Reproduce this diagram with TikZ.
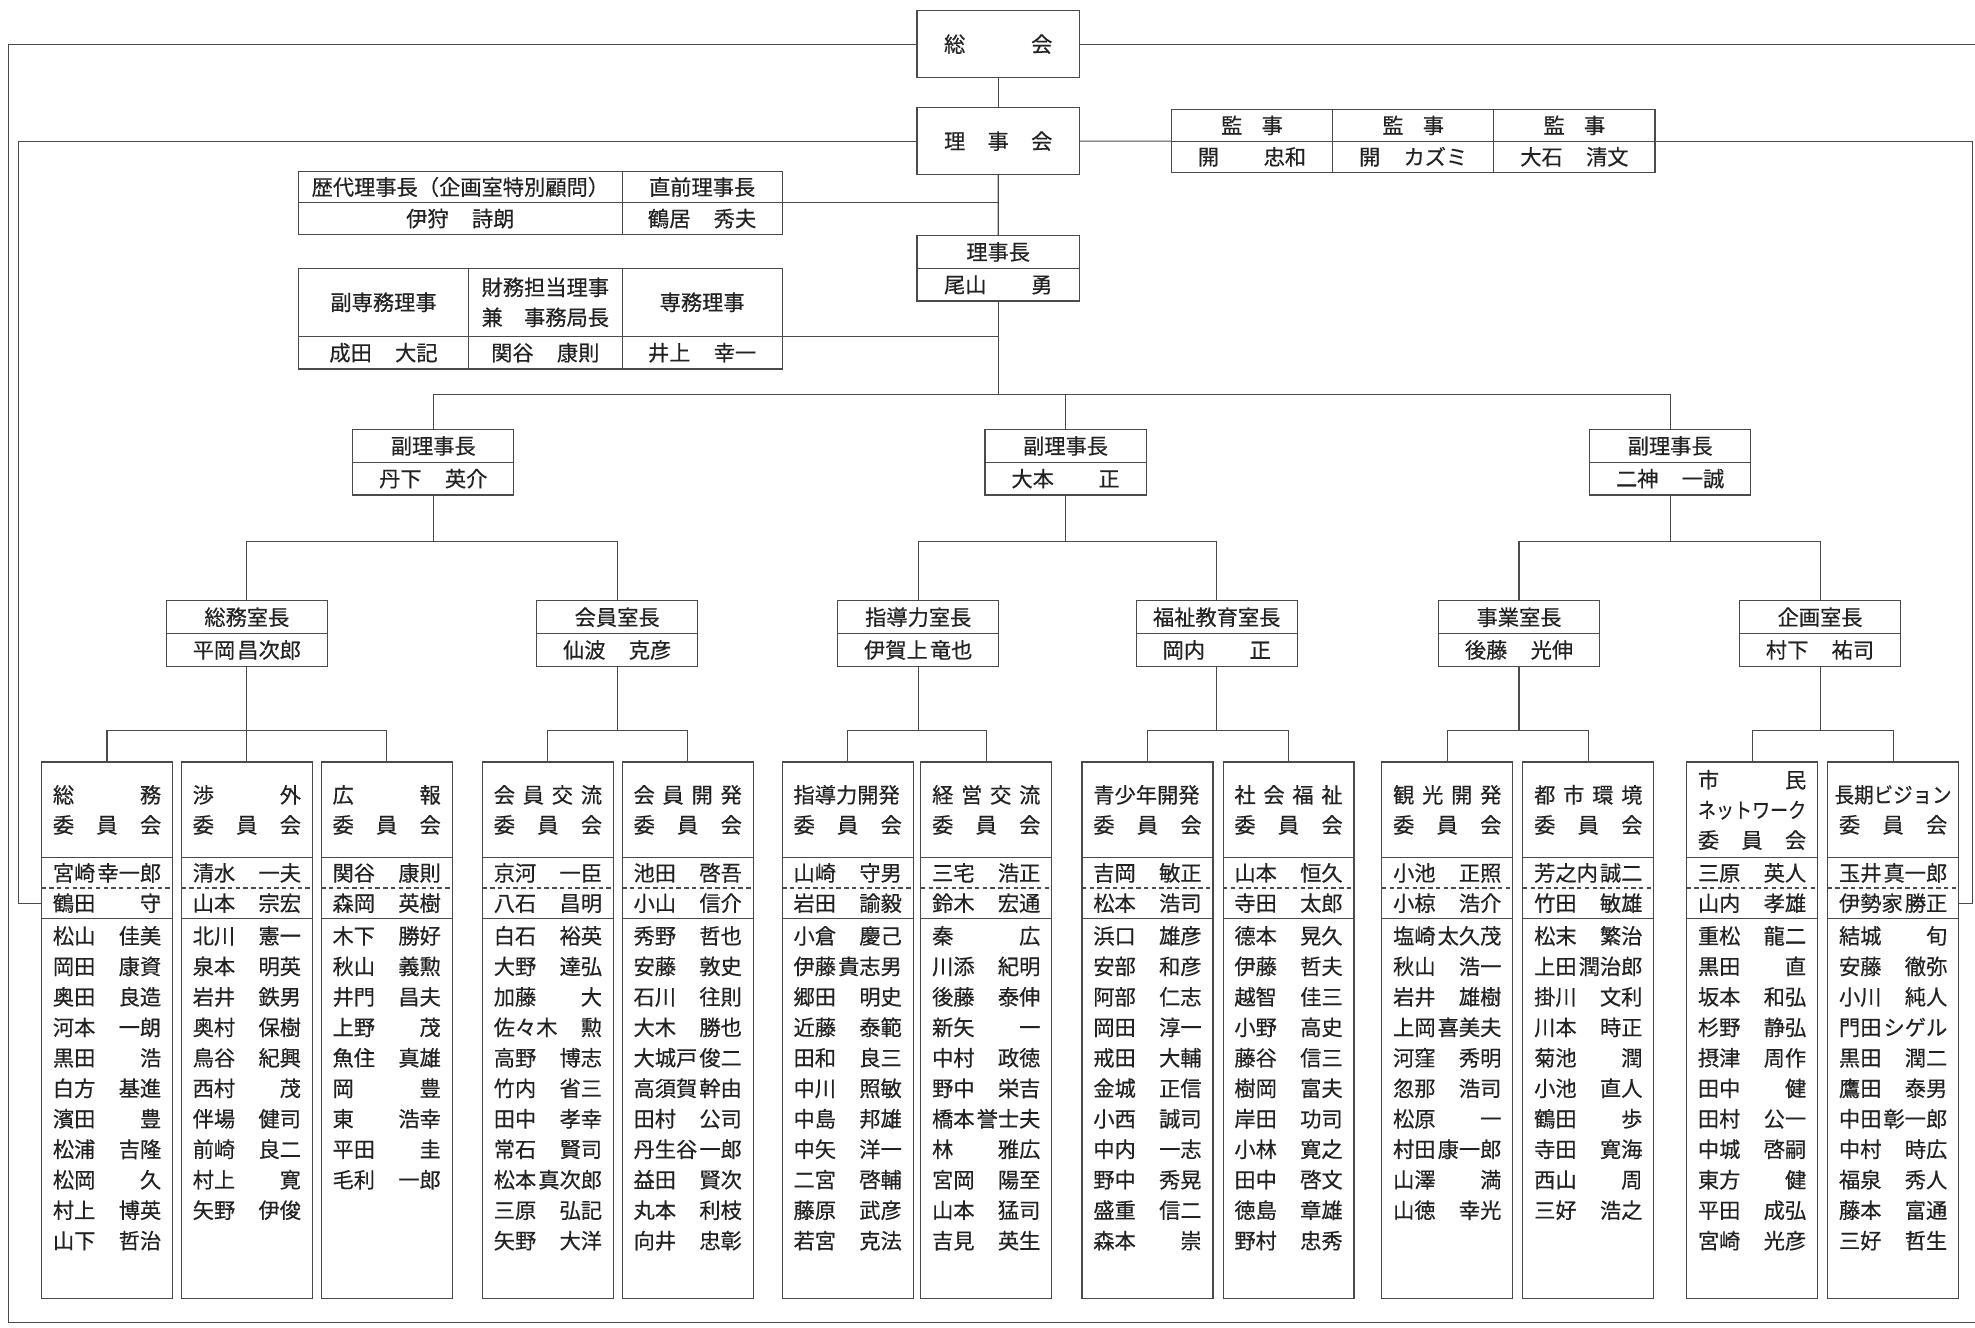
\documentclass[tikz,border=0pt]{standalone}
\usepackage{fontspec}
\usepackage{graphicx}
\newfontfamily\jpfont{Noto Sans CJK JP}[FakeBold=0.4]
\usetikzlibrary{positioning, calc}
\definecolor{rulegray}{HTML}{4A4A4A}
\definecolor{inkdark}{HTML}{222222}
\newlength\namew
\setlength\namew{1.72cm}
% surname flush left, given name flush right
\newcommand\nm[2]{\hbox to\namew{#1\hfil #2}}
\newcommand\iinkai{\hbox to\namew{委\hfil 員\hfil 会}}
% committee column: id, left x, header, chair, vice, members
\newcommand\committee[6]{%
  \pgfmathsetmacro\comx{#2+52}
  \node[combox] (#1) at (#2,605) {};
  \node[txt, align=center] (#1-head) at (\comx,643) {#3};
  \draw[rule] (#1.west |- 0,681) -- (#1.east |- 0,681);
  \node[nametxt] (#1-chair) at (\comx,693) {#4};
  \draw[dashrule] (#1.west |- 0,705) -- (#1.east |- 0,705);
  \node[nametxt] (#1-vice) at (\comx,717) {#5};
  \draw[rule] (#1.west |- 0,729) -- (#1.east |- 0,729);
  \foreach \s/\g [count=\i] in {#6}
    \node[nametxt] (#1-m\i) at (\comx,{743+(\i-1)*24.2}) {\nm{\s}{\g}};
}

\begin{document}
\begin{tikzpicture}[x=0.02cm, y=-0.02cm,
    % ── Text styles ──────────────────────────────────────────────────────
    txt/.style={
        font=\jpfont\fontsize{9.6}{13.6}\selectfont,
        text=inkdark, inner sep=0pt, outer sep=0pt
    },
    nametxt/.style={txt, text height=8.45pt, text depth=1.15pt},
    % ── Box styles ───────────────────────────────────────────────────────
    rule/.style={draw=rulegray, line width=0.5pt},
    dashrule/.style={rule, dash pattern=on 2pt off 1.5pt},
    cell/.style={rule, txt, align=center, minimum height=0.5cm},
    namecell/.style={cell, text height=8.45pt, text depth=1.15pt},
    topbox/.style={namecell, minimum width=2.58cm, minimum height=1.06cm},
    auditcell/.style={namecell, minimum width=2.56cm, minimum height=0.5cm},
    postbox/.style={namecell, minimum width=2.56cm, minimum height=0.52cm},
    combox/.style={
        rule, anchor=north west, inner sep=0pt, outer sep=0pt,
        minimum width=2.08cm, minimum height=8.52cm
    },
    % ── Connector style ──────────────────────────────────────────────────
    link/.style={draw=rulegray, line width=0.5pt}
]
\fill[white] (0,0) rectangle (1568,1054);
\useasboundingbox (0,0) rectangle (1568,1054);

% ═══════════════════════════════════════════════════════════════════════════
% Top of the chart
% ═══════════════════════════════════════════════════════════════════════════

% 1. General meeting and board
\node[topbox] (sokai) at (792.5,35) {\hbox to\namew{総\hfil 会}};
\node[topbox] (rijikai) at (792.5,112) {\hbox to\namew{理\hfil 事\hfil 会}};

% Auditors
\node[auditcell, anchor=north west] (kanji1) at (930,87) {\hbox to 0.98cm{監\hfil 事}};
\node[auditcell, right=0pt of kanji1] (kanji2) {\hbox to 0.98cm{監\hfil 事}};
\node[auditcell, right=0pt of kanji2] (kanji3) {\hbox to 0.98cm{監\hfil 事}};
\node[auditcell, below=0pt of kanji1] (kanji1n) {\nm{開}{忠和}};
\node[auditcell, below=0pt of kanji2] (kanji2n) {\nm{開}{カズミ}};
\node[auditcell, below=0pt of kanji3] (kanji3n) {\nm{大石}{清文}};

% 2. Former chairmen
\node[cell, anchor=north west, minimum width=5.14cm] (rekidai) at (237,136)
    {歴代理事長（企画室特別顧問）};
\node[namecell, below=0pt of rekidai, minimum width=5.14cm] (rekidain) {\nm{伊狩}{詩朗}};
\node[namecell, right=0pt of rekidai, minimum width=2.54cm] (chokuzen) {直前理事長};
\node[namecell, below=0pt of chokuzen, minimum width=2.54cm] (chokuzenn) {\nm{鶴居}{秀夫}};

% 3. Chairman
\node[postbox, anchor=north west, minimum width=2.58cm] (rijicho) at (728,187) {理事長};
\node[postbox, below=0pt of rijicho, minimum width=2.58cm] (rijichon) {\nm{尾山}{勇}};

% Executive directors
\node[cell, anchor=north west, minimum width=2.7cm, minimum height=1.08cm] (fukusenmu)
    at (237,213) {副専務理事};
\node[cell, right=0pt of fukusenmu, minimum width=2.44cm, minimum height=1.08cm] (zaimu)
    {財務担当理事\\\hbox to 6em{兼\hfil 事務局長}};
\node[cell, right=0pt of zaimu, minimum width=2.54cm, minimum height=1.08cm] (senmu)
    {専務理事};
\node[namecell, below=0pt of fukusenmu, minimum width=2.7cm, minimum height=0.52cm]
    (fukusenmun) {\nm{成田}{大記}};
\node[namecell, below=0pt of zaimu, minimum width=2.44cm, minimum height=0.52cm]
    (zaimun) {\nm{関谷}{康則}};
\node[namecell, below=0pt of senmu, minimum width=2.54cm, minimum height=0.52cm]
    (senmun) {\nm{井上}{幸一}};

% ═══════════════════════════════════════════════════════════════════════════
% Vice chairmen and office chiefs
% ═══════════════════════════════════════════════════════════════════════════
\node[postbox, anchor=north west] (vc1) at (280,341) {副理事長};
\node[postbox, below=0pt of vc1] (vc1n) {\nm{丹下}{英介}};
\node[postbox, anchor=north west] (vc2) at (782,341) {副理事長};
\node[postbox, below=0pt of vc2] (vc2n) {\nm{大本}{正}};
\node[postbox, anchor=north west] (vc3) at (1262,341) {副理事長};
\node[postbox, below=0pt of vc3] (vc3n) {\nm{二神}{一誠}};

\node[postbox, anchor=north west] (ch1) at (132,477) {総務室長};
\node[postbox, below=0pt of ch1] (ch1n) {\nm{平岡}{昌次郎}};
\node[postbox, anchor=north west] (ch2) at (426,477) {会員室長};
\node[postbox, below=0pt of ch2] (ch2n) {\nm{仙波}{克彦}};
\node[postbox, anchor=north west] (ch3) at (665,477) {指導力室長};
\node[postbox, below=0pt of ch3] (ch3n) {\nm{伊賀上}{竜也}};
\node[postbox, anchor=north west] (ch4) at (902,477) {福祉教育室長};
\node[postbox, below=0pt of ch4] (ch4n) {\nm{岡内}{正}};
\node[postbox, anchor=north west] (ch5) at (1142,477) {事業室長};
\node[postbox, below=0pt of ch5] (ch5n) {\nm{後藤}{光伸}};
\node[postbox, anchor=north west] (ch6) at (1381,477) {企画室長};
\node[postbox, below=0pt of ch6] (ch6n) {\nm{村下}{祐司}};

% ═══════════════════════════════════════════════════════════════════════════
% Committees
% ═══════════════════════════════════════════════════════════════════════════
\committee{somu}{33}{\hbox to\namew{総\hfil 務}\\\iinkai}
  {\nm{宮崎}{幸一郎}}{\nm{鶴田}{守}}
  {松山/佳美, 岡田/康資, 奥田/良造, 河本/一朗, 黒田/浩, 白方/基進,
   濱田/豊, 松浦/吉隆, 松岡/久, 村上/博英, 山下/哲治}
\committee{shogai}{144}{\hbox to\namew{渉\hfil 外}\\\iinkai}
  {\nm{清水}{一夫}}{\nm{山本}{宗宏}}
  {北川/憲一, 泉本/明英, 岩井/鉄男, 奥村/保樹, 鳥谷/紀興, 西村/茂,
   伴場/健司, 前崎/良二, 村上/寛, 矢野/伊俊}
\committee{koho}{255}{\hbox to\namew{広\hfil 報}\\\iinkai}
  {\nm{関谷}{康則}}{\nm{森岡}{英樹}}
  {木下/勝好, 秋山/義勲, 井門/昌夫, 上野/茂, 魚住/真雄, 岡/豊,
   東/浩幸, 平田/圭, 毛利/一郎}
\committee{kkoryu}{383}{\hbox to\namew{会\hfil 員\hfil 交\hfil 流}\\\iinkai}
  {\nm{京河}{一臣}}{\nm{八石}{昌明}}
  {白石/裕英, 大野/達弘, 加藤/大, 佐々木/勲, 高野/博志, 竹内/省三,
   田中/孝幸, 常石/賢司, 松本/真次郎, 三原/弘記, 矢野/大洋}
\committee{kkaihatsu}{494}{\hbox to\namew{会\hfil 員\hfil 開\hfil 発}\\\iinkai}
  {\nm{池田}{啓吾}}{\nm{小山}{信介}}
  {秀野/哲也, 安藤/敦史, 石川/往則, 大木/勝也, 大城戸/俊二, 高須賀/幹由,
   田村/公司, 丹生谷/一郎, 益田/賢次, 丸本/利枝, 向井/忠彰}
\committee{shido}{621}{\hbox to\namew{指導力開発}\\\iinkai}
  {\nm{山崎}{守男}}{\nm{岩田}{諭毅}}
  {小倉/慶己, 伊藤/貴志男, 郷田/明史, 近藤/泰範, 田和/良三, 中川/照敏,
   中島/邦雄, 中矢/洋一, 二宮/啓輔, 藤原/武彦, 若宮/克法}
\committee{keiei}{731}{\hbox to\namew{経\hfil 営\hfil 交\hfil 流}\\\iinkai}
  {\nm{三宅}{浩正}}{\nm{鈴木}{宏通}}
  {秦/広, 川添/紀明, 後藤/泰伸, 新矢/一, 中村/政徳, 野中/栄吉,
   橋本/誉士夫, 林/雅広, 宮岡/陽至, 山本/猛司, 吉見/英生}
\committee{seisho}{859}{\hbox to\namew{青少年開発}\\\iinkai}
  {\nm{吉岡}{敏正}}{\nm{松本}{浩司}}
  {浜口/雄彦, 安部/和彦, 阿部/仁志, 岡田/淳一, 戒田/大輔, 金城/正信,
   小西/誠司, 中内/一志, 野中/秀晃, 盛重/信二, 森本/崇}
\committee{shakai}{971}{\hbox to\namew{社\hfil 会\hfil 福\hfil 祉}\\\iinkai}
  {\nm{山本}{恒久}}{\nm{寺田}{太郎}}
  {德本/晃久, 伊藤/哲夫, 越智/佳三, 小野/高史, 藤谷/信三, 樹岡/富夫,
   岸田/功司, 小林/寛之, 田中/啓文, 徳島/章雄, 野村/忠秀}
\committee{kanko}{1097}{\hbox to\namew{観\hfil 光\hfil 開\hfil 発}\\\iinkai}
  {\nm{小池}{正照}}{\nm{小椋}{浩介}}
  {塩崎/太久茂, 秋山/浩一, 岩井/雄樹, 上岡/喜美夫, 河窪/秀明, 忽那/浩司,
   松原/一, 村田/康一郎, 山澤/満, 山徳/幸光}
\committee{toshi}{1209}{\hbox to\namew{都\hfil 市\hfil 環\hfil 境}\\\iinkai}
  {\nm{芳之内}{誠二}}{\nm{竹田}{敏雄}}
  {松末/繁治, 上田/潤治郎, 掛川/文利, 川本/時正, 菊池/潤, 小池/直人,
   鶴田/歩, 寺田/寛海, 西山/周, 三好/浩之}
\committee{shimin}{1339}
  {\hbox to\namew{市\hfil 民}\\\resizebox{\namew}{\height}{ネットワーク}\\\iinkai}
  {\nm{三原}{英人}}{\nm{山内}{孝雄}}
  {重松/龍二, 黒田/直, 坂本/和弘, 杉野/静弘, 摂津/周作, 田中/健,
   田村/公一, 中城/啓嗣, 東方/健, 平田/成弘, 宮崎/光彦}
\committee{choki}{1451}{\resizebox{1.08\namew}{\height}{長期ビジョン}\\\iinkai}
  {\nm{玉井}{真一郎}}{\nm{伊勢家}{勝正}}
  {結城/旬, 安藤/徹弥, 小川/純人, 門田/シゲル, 黒田/潤二, 鷹田/泰男,
   中田/彰一郎, 中村/時広, 福泉/秀人, 藤本/富通, 三好/哲生}

% ═══════════════════════════════════════════════════════════════════════════
% Connectors
% ═══════════════════════════════════════════════════════════════════════════
\draw[link] (sokai) -- (rijikai);
\draw[link] (rijikai) -- (rijicho);
\draw[link] (rijikai.east) -- (kanji1.south west);
\draw[link] (chokuzenn.north east) -- (chokuzenn.north east -| rijikai.south);
\draw[link] (senmun.north east) -- (senmun.north east -| rijikai.south);

% Outer frame lines to the committees
\coordinate (lcorner) at (7,1050);
\coordinate (rcorner) at (1568,1050);
\coordinate (redge) at (1568,35);
\coordinate (ldrop) at (15,717);
\coordinate (rdrop) at (1566,717);
\draw[link] (sokai.west) -| (lcorner) -- (rcorner);
\draw[link] (sokai.east) -- (redge);
\draw[link] (rijikai.west) -| (ldrop) -- (ldrop -| somu.west);
\draw[link] (kanji3.south east) -| (rdrop) -- (rdrop -| choki.east);

% Chairman to vice chairmen
\coordinate (bus0) at (rijichon.south |- 0,313);
\draw[link] (rijichon) -- (bus0);
\draw[link] (vc1) |- (bus0) -| (vc3);
\draw[link] (vc2) -- (vc2 |- bus0);

% Vice chairmen to office chiefs
\coordinate (bus1) at (vc1n.south |- 0,430);
\coordinate (bus2) at (vc2n.south |- 0,430);
\coordinate (bus3) at (vc3n.south |- 0,430);
\draw[link] (vc1n) -- (bus1);
\draw[link] (vc2n) -- (bus2);
\draw[link] (vc3n) -- (bus3);
\draw[link] (ch1) |- (bus1) -| (ch2);
\draw[link] (ch3) |- (bus2) -| (ch4);
\draw[link] (ch5) |- (bus3) -| (ch6);

% Office chiefs to committees
\coordinate (bus4) at (ch1n.south |- 0,580);
\coordinate (bus5) at (ch2n.south |- 0,580);
\coordinate (bus6) at (ch3n.south |- 0,580);
\coordinate (bus7) at (ch4n.south |- 0,580);
\coordinate (bus8) at (ch5n.south |- 0,580);
\coordinate (bus9) at (ch6n.south |- 0,580);
\draw[link] (ch1n) -- (bus4);
\draw[link] (ch2n) -- (bus5);
\draw[link] (ch3n) -- (bus6);
\draw[link] (ch4n) -- (bus7);
\draw[link] (ch5n) -- (bus8);
\draw[link] (ch6n) -- (bus9);
\draw[link] (somu) |- (bus4) -| (koho);
\draw[link] (shogai) -- (shogai |- bus4);
\draw[link] (kkoryu) |- (bus5) -| (kkaihatsu);
\draw[link] (shido) |- (bus6) -| (keiei);
\draw[link] (seisho) |- (bus7) -| (shakai);
\draw[link] (kanko) |- (bus8) -| (toshi);
\draw[link] (shimin) |- (bus9) -| (choki);

\end{tikzpicture}
\end{document}
